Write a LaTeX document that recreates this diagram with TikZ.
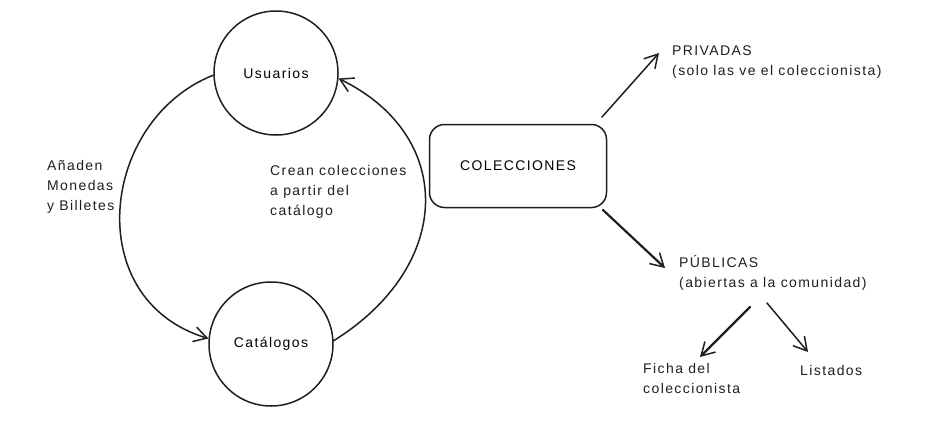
\documentclass[tikz,border=0pt]{standalone}
\usepackage{fontspec}
\setmainfont[LetterSpace=10]{Liberation Sans}
\usetikzlibrary{arrows.meta}
\begin{document}
\begin{tikzpicture}[x=1pt,y=-1pt,
  ink/.style={draw=black!88, line width=1.5pt, line cap=round, line join=round},
  arr/.style={ink, -{Straight Barb[length=13pt,width=15pt,line width=1.5pt]}},
  circ/.style={ink, circle, minimum size=124pt, inner sep=0pt, font=\fontsize{14}{16}\selectfont},
  lbl/.style={anchor=north west, align=left, inner sep=0pt, font=\fontsize{14}{20}\selectfont, text=black!88}]
\useasboundingbox[fill=white] (0,0) rectangle (938,429);
\node[circ] (u) at (276,73) {Usuarios};
\node[circ] (c) at (271,344) {Catálogos};
\node[ink, rounded corners=15pt, minimum width=177pt, minimum height=83pt, font=\fontsize{14}{16}\selectfont] (col) at (518,166) {COLECCIONES};
\node[lbl] (priv) at (672,46) {PRIVADAS\\(solo las ve el coleccionista)};
\node[lbl] (pub) at (679,255) {PÚBLICAS\\(abiertas a la comunidad)};
\node[lbl] (ficha) at (643,363) {Ficha del\\coleccionista};
\node[lbl] (list) at (800,365) {Listados};
\node[lbl] (anad) at (47,160) {Añaden\\Monedas\\y Billetes};
\node[lbl] (crean) at (270,165) {Crean colecciones\\a partir del\\catálogo};
\coordinate (p1) at (602,117);
\coordinate (p2) at (659,53);
\coordinate (q1) at (603,210);
\coordinate (q2) at (665,268);
\coordinate (r1) at (750,307);
\coordinate (r2) at (700,357);
\coordinate (s1) at (767,303);
\coordinate (s2) at (808,352);
\draw[arr] (u.182) .. controls (100,120) and (80,300) .. (c.175);
\draw[arr] (c.3) .. controls (455,265) and (455,135) .. (u.355);
\draw[arr] (p1) -- (p2);
\draw[arr, line width=2.2pt] (q1) -- (q2);
\draw[arr, line width=2.2pt] (r1) -- (r2);
\draw[arr] (s1) -- (s2);
\end{tikzpicture}
\end{document}
